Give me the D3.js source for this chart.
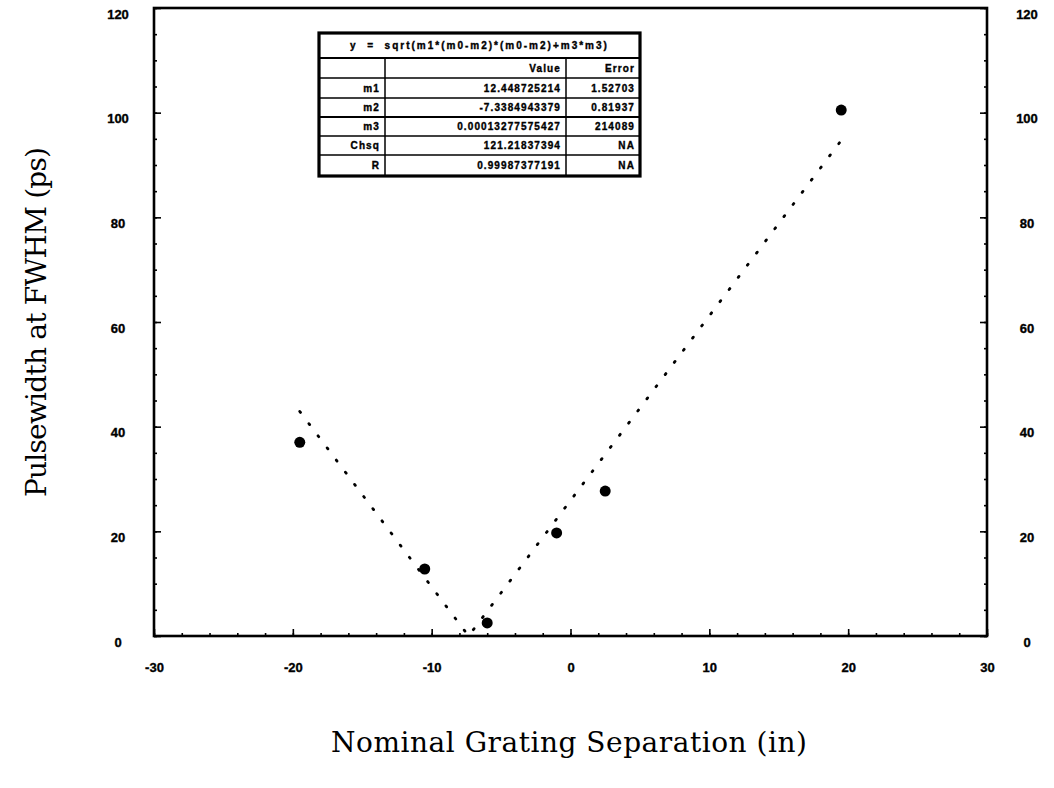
<!DOCTYPE html>
<html>
<head>
<meta charset="utf-8">
<script src="https://cdn.jsdelivr.net/npm/d3@7"></script>
<style>
  body { margin: 0; background: #fff; }
  .tick text { font-family: "Liberation Sans", Arial, sans-serif; font-weight: bold; font-size: 13px; fill: #000; stroke: #000; stroke-width: 0.35px; }
  .tbl text { font-family: "Liberation Sans", Arial, sans-serif; font-weight: bold; font-size: 10px; letter-spacing: 1.1px; fill: #000; stroke: #000; stroke-width: 0.35px; }
</style>
</head>
<body>
<div id="chart"></div>
<script>
// measured points
var sepX = [-19.5, -10.5, -6.0, -1.0, 2.5, 19.5];
var pulseY = [37.0, 12.8, 2.5, 19.7, 27.7, 100.5];

// dotted fit curve (vertex + ends)
var fitX = [-19.5, -7.34, 19.5];
var fitY = [42.9, 0, 94.7];

var xTicks = [-30, -20, -10, 0, 10, 20, 30];
var yTicks = [0, 20, 40, 60, 80, 100, 120];

// fit parameter table
var tblTitle = "y  =  sqrt(m1*(m0-m2)*(m0-m2)+m3*m3)";
var tblHead = ["", "Value", "Error"];
var tblNames = ["m1", "m2", "m3", "Chsq", "R"];
var tblValues = ["12.448725214", "-7.3384943379", "0.00013277575427", "121.21837394", "0.99987377191"];
var tblErrors = ["1.52703", "0.81937", "214089", "NA", "NA"];

var W = 1054, H = 788;
var svg = d3.select("#chart").append("svg").attr("width", W).attr("height", H);
svg.append("rect").attr("width", W).attr("height", H).attr("fill", "#fff");

var x = d3.scaleLinear().domain([-30, 30]).range([154, 987]);
var y = d3.scaleLinear().domain([0, 120]).range([636, 8]);

// minor ticks first
svg.append("g").attr("transform", "translate(0,636)")
    .call(d3.axisBottom(x).tickValues(d3.range(-30, 31, 2)).tickSize(-3).tickFormat(""))
    .call(function(g) { g.select(".domain").remove(); });
svg.append("g").attr("transform", "translate(154,0)")
    .call(d3.axisLeft(y).tickValues(d3.range(0, 121, 5)).tickSize(-3).tickFormat(""))
    .call(function(g) { g.select(".domain").remove(); });
svg.append("g").attr("transform", "translate(987,0)")
    .call(d3.axisRight(y).tickValues(d3.range(0, 121, 5)).tickSize(-3).tickFormat(""))
    .call(function(g) { g.select(".domain").remove(); });

// major ticks + labels (plain hyphen for negatives, like the original)
var fmt = function(d) { return String(d); };
var xAx = svg.append("g").attr("transform", "translate(0,636)")
    .call(d3.axisBottom(x).tickValues(xTicks).tickSize(-7).tickPadding(27).tickFormat(fmt));
var yAxL = svg.append("g").attr("transform", "translate(154,0)")
    .call(d3.axisLeft(y).tickValues(yTicks).tickSize(-7).tickFormat(fmt));
var yAxR = svg.append("g").attr("transform", "translate(987,0)")
    .call(d3.axisRight(y).tickValues(yTicks).tickSize(-7).tickFormat(fmt));

yAxL.selectAll(".tick text").attr("text-anchor", "middle").attr("x", -36).attr("y", 6);
yAxR.selectAll(".tick text").attr("text-anchor", "middle").attr("x", 40).attr("y", 6);

[xAx, yAxL, yAxR].forEach(function(g) {
    g.select(".domain").remove();
});
svg.selectAll(".tick line").attr("stroke", "#000").attr("stroke-width", 1.6);

// frame
svg.append("rect")
    .attr("x", x(-30)).attr("y", y(120))
    .attr("width", x(30) - x(-30)).attr("height", y(0) - y(120))
    .attr("fill", "none").attr("stroke", "#000").attr("stroke-width", 2.6);

// fit curve
var fitData = fitX.map(function(d, i) { return [d, fitY[i]]; });
svg.append("path")
    .datum(fitData)
    .attr("d", d3.line().x(function(d) { return x(d[0]); }).y(function(d) { return y(d[1]); }))
    .attr("fill", "none")
    .attr("stroke", "#000")
    .attr("stroke-width", 2.8)
    .attr("stroke-linecap", "round")
    .attr("stroke-dasharray", "1.2,14");

// data points
svg.selectAll("circle.pt")
    .data(sepX)
    .enter()
    .append("circle")
    .attr("class", "pt")
    .attr("cx", function(d) { return x(d); })
    .attr("cy", function(d, i) { return y(pulseY[i]); })
    .attr("r", 5.5)
    .attr("fill", "#000");

// axis titles
svg.append("text")
    .attr("x", 569).attr("y", 752)
    .attr("text-anchor", "middle")
    .attr("textLength", 476)
    .style("font-family", "'DejaVu Serif', serif")
    .style("font-size", "28px")
    .text("Nominal Grating Separation (in)");

svg.append("text")
    .attr("transform", "translate(46,322) rotate(-90)")
    .attr("text-anchor", "middle")
    .attr("textLength", 350)
    .style("font-family", "'DejaVu Serif', serif")
    .style("font-size", "28px")
    .text("Pulsewidth at FWHM (ps)");

// parameter table
var colX = [319, 385, 566, 640];
var rowY = [33, 58, 78, 98, 117, 136, 155, 176];
var tbl = svg.append("g").attr("class", "tbl");

for (var r = 1; r < rowY.length - 1; r++) {
    tbl.append("line").attr("x1", colX[0]).attr("x2", colX[3])
        .attr("y1", rowY[r]).attr("y2", rowY[r])
        .attr("stroke", "#000").attr("stroke-width", r == 1 || r == 4 ? 2.2 : 1.5);
}
for (var c = 1; c < 3; c++) {
    tbl.append("line").attr("x1", colX[c]).attr("x2", colX[c])
        .attr("y1", rowY[1]).attr("y2", rowY[7])
        .attr("stroke", "#000").attr("stroke-width", 1.5);
}
tbl.append("rect")
    .attr("x", colX[0]).attr("y", rowY[0])
    .attr("width", colX[3] - colX[0]).attr("height", rowY[7] - rowY[0])
    .attr("fill", "none").attr("stroke", "#000").attr("stroke-width", 3.2);

tbl.append("text")
    .attr("x", 350).attr("y", (rowY[0] + rowY[1]) / 2 + 3.5)
    .attr("textLength", 258)
    .style("white-space", "pre")
    .text(tblTitle);

tblHead.forEach(function(h, i) {
    if (i == 0) return;
    tbl.append("text")
        .attr("x", colX[i + 1] - 5).attr("y", (rowY[1] + rowY[2]) / 2 + 3.5)
        .attr("text-anchor", "end").text(h);
});

tblNames.forEach(function(n, i) {
    var cy = (rowY[i + 2] + rowY[i + 3]) / 2 + 3.5;
    tbl.append("text").attr("x", colX[1] - 5).attr("y", cy).attr("text-anchor", "end").text(n);
    tbl.append("text").attr("x", colX[2] - 5).attr("y", cy).attr("text-anchor", "end").text(tblValues[i]);
    tbl.append("text").attr("x", colX[3] - 5).attr("y", cy).attr("text-anchor", "end").text(tblErrors[i]);
});
</script>
</body>
</html>
